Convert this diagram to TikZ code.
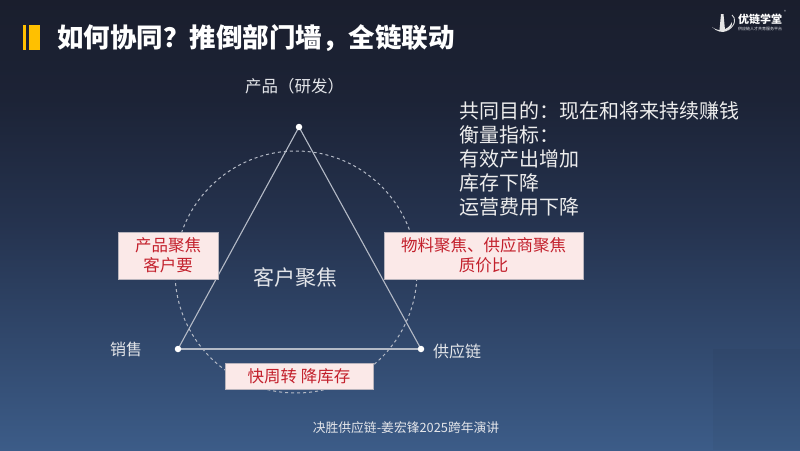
\documentclass[tikz,border=0pt]{standalone}
\usepackage{fontspec}
\setmainfont{Noto Sans CJK SC}
\usetikzlibrary{calc}
\definecolor{bgtop}{HTML}{1A1E2D}
\definecolor{bgupper}{HTML}{1C2336}
\definecolor{bgmid}{HTML}{25334F}
\definecolor{bgbot}{HTML}{3C5C88}
\definecolor{lbl}{HTML}{E4E6EA}
\definecolor{edgec}{HTML}{B4BAC6}
\definecolor{boxfill}{HTML}{FBE9E8}
\definecolor{boxline}{HTML}{B8B4BC}
\definecolor{redtext}{HTML}{C3202C}
\definecolor{barc}{HTML}{FFC000}
\pgfdeclareverticalshading{bgshade}{100bp}{
 color(0bp)=(bgbot); color(25bp)=(bgbot); color(50bp)=(bgmid); color(64bp)=(bgupper); color(75bp)=(bgtop); color(100bp)=(bgtop)}
\tikzset{
 lab/.style={text=lbl,inner sep=0pt,font=\fontsize{16}{16}\selectfont},
 redbox/.style={draw=boxline,line width=.8pt,fill=boxfill,text=redtext,inner sep=0pt,align=center,font=\fontsize{16.5}{20}\selectfont},
 vertex/.style={circle,fill=white,inner sep=0pt,minimum size=6.5pt},
 edge/.style={draw=edgec,line width=1.1pt},
 ring/.style={draw=edgec,line width=1pt,dash pattern=on 3pt off 3pt}
}
\begin{document}
\begin{tikzpicture}[x=1pt,y=-1pt]
\useasboundingbox (0,0) rectangle (800,450);
\node[inner sep=0pt,outer sep=0pt,minimum width=800pt,minimum height=450pt,shading=bgshade,anchor=north west] (bg) at (0,0) {};
\fill[black,opacity=.03] (713,349) rectangle (800,450);
% title
\fill[barc] (23,25) rectangle (26,50);
\fill[barc] (29,25) rectangle (40,50);
\node[anchor=west,inner sep=0pt,text=white,font=\fontsize{26.5}{26.5}\selectfont\bfseries] (title) at (57,38) {如何协同？推倒部门墙，全链联动};
% logo
\fill[white!90!black] (712,27) .. controls (718,32) and (728,31) .. (732,22) .. controls (733,30) and (722,37) .. (712,27);
\fill[white!90!black] (721,14) -- (723.5,14) -- (725,30) -- (719.5,30) -- cycle;
\draw[white!85!black,line width=.9pt] (728,30) .. controls (736,25) and (736,18) .. (732,15);
\node[anchor=west,inner sep=0pt,text=white,font=\fontsize{11}{11}\selectfont\bfseries] (logo) at (738,19) {优链学堂};
\node[inner sep=0pt,text=lbl,font=\fontsize{4}{4}\selectfont] (reg) at (785,12) {®};
\node[anchor=west,inner sep=0pt,text=lbl,font=\fontsize{4}{5}\selectfont] (logosub) at (738,29) {供应链人才共育服务平台};
% diagram
\coordinate (t) at (299,127);
\coordinate (l) at (178,349);
\coordinate (r) at (421,349);
\draw[ring] (296,272) circle (121);
\draw[edge] (t) -- (l);
\draw[edge] (t) -- (r);
\draw[edge] (l) -- (r);
\node[vertex] (vt) at (t) {};
\node[vertex] (vl) at (l) {};
\node[vertex] (vr) at (r) {};
\node[lab,font=\fontsize{16.5}{16}\selectfont] (a) at (294.5,86) {产品（研发）};
\node[lab] (b) at (126,349) {销售};
\node[lab] (c) at (457,351) {供应链};
\node[text=lbl,inner sep=0pt,font=\fontsize{21}{21}\selectfont] (d) at (295,278) {客户聚焦};
\node[redbox,minimum width=100pt,minimum height=47pt] (e) at (168,255.5) {产品聚焦\\客户要};
\node[redbox,minimum width=199pt,minimum height=47pt] (f) at (483.5,255.5) {物料聚焦、供应商聚焦\\质价比};
\node[redbox,minimum width=148pt,minimum height=26pt] (g) at (299,376) {快周转 降库存};
\node[anchor=north west,inner sep=0pt,text=white!93!black,align=left,font=\fontsize{20}{24}\selectfont] (h) at (459,101) {共同目的：现在和将来持续赚钱\\衡量指标：\\有效产出增加\\库存下降\\运营费用下降};
\node[text=lbl,inner sep=0pt,font=\fontsize{12.8}{13}\selectfont] (i) at (406,428) {决胜供应链-姜宏锋2025跨年演讲};
\end{tikzpicture}
\end{document}
